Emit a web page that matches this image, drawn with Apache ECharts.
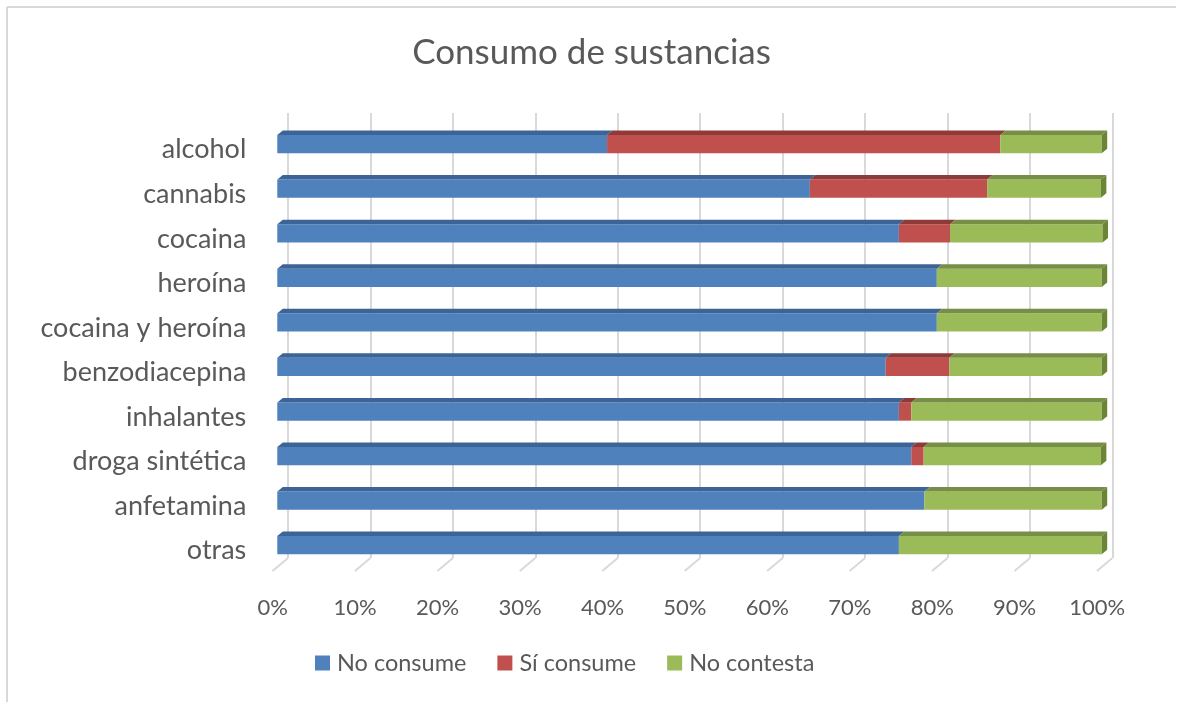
<!DOCTYPE html>
<html>
<head>
<meta charset="utf-8">
<script src="https://cdn.jsdelivr.net/npm/echarts@6/dist/echarts.min.js"></script>
<style>
html,body{margin:0;padding:0;background:#fff;}
#chart{width:1183px;height:702px;}
</style>
</head>
<body>
<div id="chart"></div>
<script>
const categories = ['alcohol','cannabis','cocaina','heroína','cocaina y heroína','benzodiacepina','inhalantes','droga sintética','anfetamina','otras'];
const noConsume  = [40.0, 64.6, 75.4, 80.0, 80.0, 73.8, 75.4, 76.9, 78.5, 75.4];
const siConsume  = [47.7, 21.5, 6.2, 0, 0, 7.7, 1.5, 1.5, 0, 0];
const noContesta = [12.3, 13.8, 18.5, 20.0, 20.0, 18.5, 23.1, 21.5, 21.5, 24.6];
const seriesNames = ['No consume','Sí consume','No contesta'];
const xTicks = [0,10,20,30,40,50,60,70,80,90,100];

const FONT = 'Lato';
const TXT = '#595959';
const faces = [
  {front:'#4f81bd', top:'#3c6496', side:'#3a5f8c'},
  {front:'#c0504d', top:'#8e3a38', side:'#863634'},
  {front:'#9bbb59', top:'#768e45', side:'#6b8436'}
];
const DX = 5.5, DY = 4.5;

const seriesValues = [noConsume, siConsume, noContesta];
const stacked = seriesValues.map(() => []);
categories.forEach((c, i) => {
  let acc = 0;
  seriesValues.forEach((vals, s) => {
    stacked[s].push([i, acc, acc + vals[i]]);
    acc += vals[i];
  });
});

function barRender(sIdx) {
  const isLast = sIdx === seriesValues.length - 1;
  const f = faces[sIdx];
  return function (params, api) {
    const cat = api.value(0), s = api.value(1), e = api.value(2);
    if (e - s <= 0) return null;
    const p0 = api.coord([s, cat]);
    const p1 = api.coord([e, cat]);
    const band = api.size([0, 1])[1];
    const h = band * 0.41;
    const top = p0[1] - h / 2, bot = p0[1] + h / 2;
    const children = [
      {type:'rect', shape:{x:p0[0], y:top, width:p1[0]-p0[0], height:h}, style:{fill:f.front}},
      {type:'polygon', shape:{points:[[p0[0],top],[p0[0]+DX,top-DY],[p1[0]+DX,top-DY],[p1[0],top]]}, style:{fill:f.top}}
    ];
    if (isLast) {
      children.push({type:'polygon', shape:{points:[[p1[0],top],[p1[0]+DX,top-DY],[p1[0]+DX,bot-DY],[p1[0],bot]]}, style:{fill:f.side}});
    }
    return {type:'group', children};
  };
}

const chart = echarts.init(document.getElementById('chart'), null, {renderer:'canvas'});
const PLOT_W = 824.4;

const option = {
  animation: false,
  backgroundColor: '#ffffff',
  title: {
    text: 'Consumo de sustancias',
    left: 'center', top: 35, padding: 0,
    textStyle: {fontFamily: FONT, fontSize: 35, fontWeight: 'normal', color: TXT}
  },
  legend: {
    data: seriesNames,
    left: 315, top: 651, padding: 0,
    icon: 'rect', itemWidth: 15, itemHeight: 15, itemGap: 31,
    textStyle: {fontFamily: FONT, fontSize: 23.5, color: TXT, padding:[0,0,0,2]}
  },
  graphic: [
    {type:'line', shape:{x1:7, y1:7, x2:1176, y2:7}, style:{stroke:'#d9d9d9', lineWidth:2}, silent:true},
    {type:'line', shape:{x1:7, y1:7, x2:7, y2:702}, style:{stroke:'#d9d9d9', lineWidth:2}, silent:true}
  ],
  grid: [
    {left: 277.3, width: PLOT_W, top: 121.9, height: 445.6},
    {left: 288, width: PLOT_W, top: 113, height: 445},
    {left: 272.7, width: PLOT_W, top: 113, height: 458}
  ],
  xAxis: [
    {gridIndex:0, type:'value', min:0, max:100, interval:10, show:false},
    {gridIndex:1, type:'value', min:0, max:100, interval:10,
     axisLine:{show:false}, axisTick:{show:false}, axisLabel:{show:false},
     splitLine:{show:true, lineStyle:{color:'#d9d9d9', width:2}}},
    {gridIndex:2, type:'value', min:0, max:100, interval:10,
     axisLine:{show:false}, axisTick:{show:false}, splitLine:{show:false},
     axisLabel:{show:true, margin:26, formatter:'{value}%', fontFamily:FONT, fontSize:22, color:TXT}}
  ],
  yAxis: [
    {gridIndex:0, type:'category', data:categories, inverse:true,
     axisLine:{show:false}, axisTick:{show:false}, splitLine:{show:false},
     axisLabel:{margin:31, formatter: v => '{a|' + v + '}',
       rich:{a:{fontFamily:FONT, fontSize:27, color:TXT, padding:[11,0,0,0]}}}},
    {gridIndex:1, type:'value', min:0, max:1, show:false},
    {gridIndex:2, type:'value', min:0, max:1, show:false}
  ],
  series: [
    {
      name:'floor', type:'custom', xAxisIndex:1, yAxisIndex:1, silent:true,
      data: xTicks.map(v => [v, 0]),
      renderItem: function (params, api) {
        const p = api.coord([api.value(0), api.value(1)]);
        return {type:'line', shape:{x1:p[0], y1:p[1], x2:p[0]-15.5, y2:p[1]+13},
                style:{stroke:'#d9d9d9', lineWidth:2}};
      },
      z: 1
    }
  ].concat(seriesNames.map((name, s) => ({
    name, type:'custom', xAxisIndex:0, yAxisIndex:0,
    itemStyle:{color: faces[s].front},
    encode:{y:0, x:[1,2]},
    data: stacked[s],
    renderItem: barRender(s),
    z: 3
  })))
};
chart.setOption(option);
</script>
</body>
</html>
